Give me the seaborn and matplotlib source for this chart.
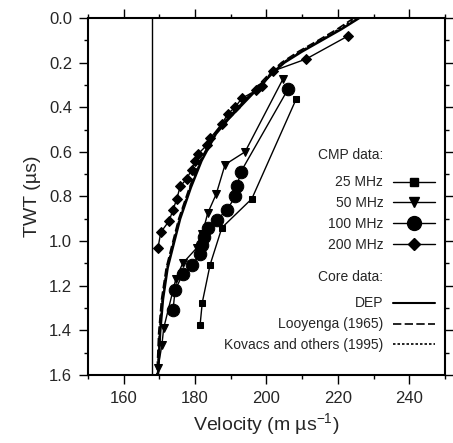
import matplotlib
matplotlib.use('Agg')
import numpy as np
import pandas as pd
import matplotlib.pyplot as plt
import seaborn as sns
from matplotlib.lines import Line2D
from matplotlib.ticker import MultipleLocator, FormatStrFormatter

sns.set_theme(style='ticks')
plt.rcParams['font.family'] = ['Liberation Sans', 'DejaVu Sans']
plt.rcParams['mathtext.default'] = 'regular'

# ============================================================
# CMP velocity picks (TWT in microseconds, velocity in m/us)
# ============================================================
t_25 = [0.364, 0.81, 0.94, 1.106, 1.276, 1.375]
v_25 = [208.3, 195.9, 187.5, 184.2, 182.0, 181.4]

t_50 = [0.274, 0.60, 0.657, 0.79, 0.876, 0.97, 1.03, 1.10, 1.17, 1.39, 1.465, 1.57]
v_50 = [204.6, 194.0, 188.4, 185.9, 183.5, 182.0, 180.5, 176.5, 174.6, 171.2, 170.7, 169.6]

t_100 = [0.32, 0.69, 0.755, 0.80, 0.86, 0.905, 0.94, 0.98, 1.016, 1.06, 1.106, 1.146, 1.22, 1.31]
v_100 = [206.0, 192.8, 191.7, 191.3, 188.9, 186.1, 183.6, 182.5, 181.9, 181.4, 179.1, 176.6, 174.4, 173.8]

t_200 = [0.081, 0.184, 0.238, 0.306, 0.325, 0.36, 0.40, 0.43, 0.476, 0.54, 0.57,
         0.61, 0.64, 0.68, 0.72, 0.755, 0.81, 0.86, 0.91, 0.96, 1.03]
v_200 = [222.8, 211.1, 201.8, 198.7, 197.1, 193.1, 191.2, 189.2, 187.4, 184.2, 183.3,
         180.8, 180.0, 179.0, 177.7, 175.8, 174.9, 173.8, 172.7, 170.4, 169.6]

# core-derived velocity profiles
t_core = [0.0, 0.05, 0.1, 0.15, 0.2, 0.25, 0.3, 0.35, 0.4, 0.45, 0.52,
          0.64, 0.76, 0.9, 1.0, 1.12, 1.26, 1.41, 1.6]
v_dep = [226.0, 221.0, 215.5, 210.0, 205.0, 201.5, 198.5, 195.5, 192.5, 189.5, 185.8,
         181.8, 178.8, 175.8, 174.2, 172.3, 171.0, 170.2, 169.6]
v_looyenga = [224.5, 219.8, 214.5, 209.0, 204.2, 200.8, 197.8, 195.0, 192.0, 189.0, 185.4,
              181.4, 178.4, 175.4, 173.8, 171.9, 170.6, 169.8, 169.3]
v_kovacs = [225.2, 220.3, 215.0, 209.5, 204.6, 201.1, 198.1, 195.2, 192.2, 189.2, 185.6,
            181.6, 178.6, 175.6, 174.0, 172.1, 170.8, 170.0, 169.5]

V_ICE = 168.0  # vertical reference line

cmp_series = [
    ('25 MHz', t_25, v_25, 's', 5),
    ('50 MHz', t_50, v_50, 'v', 6),
    ('100 MHz', t_100, v_100, 'o', 9),
    ('200 MHz', t_200, v_200, 'D', 5),
]
core_series = [
    ('DEP', 'dep', 1.8, '-'),
    ('Looyenga (1965)', 'loo', 1.2, (0, (5, 2))),
    ('Kovacs and others (1995)', 'kov', 1.2, (0, (1.5, 1.2))),
]

fig = plt.figure(figsize=(4.53, 4.43), dpi=100)
ax = fig.add_axes([0.1943, 0.1535, 0.788, 0.806])

ax.axvline(V_ICE, color='black', lw=1.0)

for lab, t, v, mk, ms in cmp_series:
    df = pd.DataFrame({'v': v, 't': t})
    sns.lineplot(data=df, x='v', y='t', sort=False, estimator=None, ax=ax,
                 color='black', lw=1.0, marker=mk, markersize=ms,
                 markeredgecolor='black', markerfacecolor='black')

core = pd.DataFrame({'t': t_core, 'dep': v_dep, 'loo': v_looyenga, 'kov': v_kovacs})
for lab, col, lw, ls in core_series:
    sns.lineplot(data=core, x=col, y='t', sort=False, estimator=None, ax=ax,
                 color='black', lw=lw, linestyle=ls)

ax.set_xlim(150, 250)
ax.set_ylim(1.6, 0.0)
ax.set_xticks([160, 180, 200, 220, 240])
ax.xaxis.set_minor_locator(MultipleLocator(10))
ax.yaxis.set_major_locator(MultipleLocator(0.2))
ax.yaxis.set_minor_locator(MultipleLocator(0.1))
ax.yaxis.set_major_formatter(FormatStrFormatter('%.1f'))
ax.tick_params(which='both', direction='out', top=True, right=True,
               labelsize=12, color='black', width=1.0, pad=5)
ax.tick_params(which='major', length=6.5)
ax.tick_params(which='minor', length=3)
for sp in ax.spines.values():
    sp.set_linewidth(1.5)
    sp.set_color('black')

ax.set_xlabel('Velocity (m µs$^{-1}$)', fontsize=14, labelpad=4)
ax.set_ylabel('TWT (µs)', fontsize=14, labelpad=6)

# legend: headers as text, entries as two legends
LEG_FS = 10
ax.text(0.826, 0.616, 'CMP data:', transform=ax.transAxes, ha='right', va='center',
        fontsize=LEG_FS)
ax.text(0.826, 0.2745, 'Core data:', transform=ax.transAxes, ha='right', va='center',
        fontsize=LEG_FS)

cmp_handles = [Line2D([], [], color='black', lw=1.0, marker=mk, markersize=ms + 1)
               for lab, t, v, mk, ms in cmp_series]
leg1 = ax.legend(cmp_handles, [s[0] for s in cmp_series], loc='upper right',
                 bbox_to_anchor=(0.972, 0.559), frameon=False, markerfirst=False,
                 fontsize=LEG_FS, handlelength=3.0, labelspacing=0.5,
                 handletextpad=0.72, borderpad=0, borderaxespad=0)
ax.add_artist(leg1)

core_handles = [Line2D([], [], color='black', lw=1.2 if lw < 1.5 else 1.5, linestyle=ls)
                for lab, col, lw, ls in core_series]
ax.legend(core_handles, [s[0] for s in core_series], loc='upper right',
          bbox_to_anchor=(0.972, 0.22), frameon=False, markerfirst=False,
          fontsize=LEG_FS, handlelength=3.0, labelspacing=0.5,
          handletextpad=0.72, borderpad=0, borderaxespad=0)

fig.savefig('out.png', dpi=100)
